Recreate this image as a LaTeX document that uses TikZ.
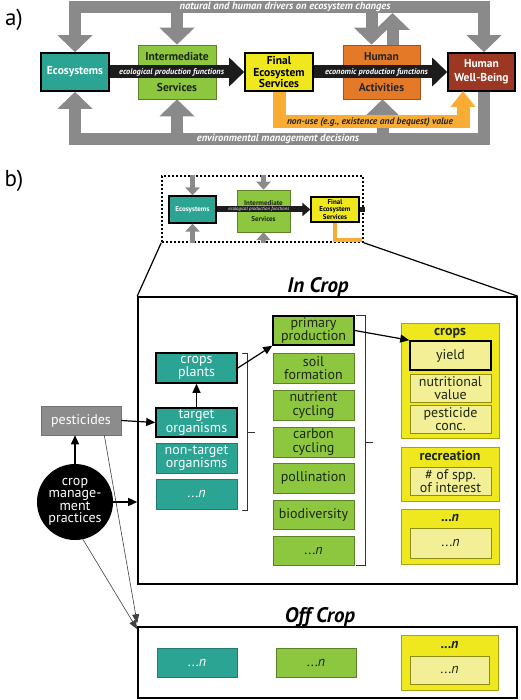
\documentclass[tikz,border=0pt]{standalone}
\usepackage{fontspec}
\setmainfont{PT Sans}
\usetikzlibrary{arrows.meta,calc}
\definecolor{ecoteal}{RGB}{44,164,148}
\definecolor{intgreen}{RGB}{141,198,63}
\definecolor{fesyel}{RGB}{240,232,30}
\definecolor{fesin}{RGB}{243,239,150}
\definecolor{humorg}{RGB}{228,122,40}
\definecolor{hwbbrown}{RGB}{155,55,35}
\definecolor{bandgray}{RGB}{138,138,138}
\definecolor{pestgray}{RGB}{140,140,140}
\definecolor{nonuse}{RGB}{248,172,52}
\definecolor{arrowblack}{RGB}{28,28,28}
\definecolor{darktext}{RGB}{30,38,20}
\newcommand\boxfont{\fontsize{14}{13.5}\selectfont}
\begin{document}
\begin{tikzpicture}[x=1pt,y=-1pt,
  band/.style={draw=bandgray, line width=12pt, line join=miter},
  ghead/.style={-{Triangle[width=34pt,length=17pt]}},
  sband/.style={draw=bandgray, line width=5pt},
  sghead/.style={-{Triangle[width=14pt,length=8pt]}},
  abox/.style={rectangle, inner sep=0pt, align=center, font=\fontsize{11.5}{11.5}\selectfont\bfseries},
  sbox/.style={rectangle, inner sep=0pt, align=center, font=\fontsize{7}{7.5}\selectfont\bfseries},
  bandlabel/.style={text=white, font=\fontsize{10.5}{10}\selectfont\bfseries\itshape, inner sep=0pt},
  arrlabel/.style={text=white, font=\fontsize{8.3}{8}\selectfont\bfseries\itshape, inner sep=0pt},
  keybox/.style={draw=black, line width=1.6pt},
  tbox/.style={rectangle, fill=ecoteal, draw=ecoteal!75!black, line width=0.6pt, text=white, minimum width=81pt, minimum height=30pt, inner sep=0pt, align=center, font=\boxfont},
  gbox/.style={rectangle, fill=intgreen, draw=intgreen!65!black, line width=0.6pt, text=darktext, minimum width=81pt, minimum height=30pt, inner sep=0pt, align=center, font=\boxfont},
  ygrp/.style={rectangle, fill=fesyel, draw=fesyel!70!black, line width=0.8pt, minimum width=98pt, inner sep=0pt},
  ybox/.style={rectangle, fill=fesin, draw=fesyel!60!black, line width=0.6pt, text=darktext, minimum width=81pt, minimum height=28pt, inner sep=0pt, align=center, font=\boxfont},
  ytitle/.style={anchor=base, inner sep=0pt, text=darktext, font=\fontsize{14}{14}\selectfont\bfseries},
  bracket/.style={draw=black!80, line width=0.7pt},
  barrow/.style={draw=black, line width=1.2pt, -{Triangle[width=8pt,length=9pt]}},
  tarrow/.style={draw=black!75, line width=0.6pt, -{Triangle[width=7pt,length=9pt]}},
  frame/.style={rectangle, draw=black, line width=1.6pt, inner sep=0pt},
  title/.style={anchor=base, inner sep=0pt, font=\fontsize{21}{21}\selectfont\bfseries\itshape},
  plabel/.style={inner sep=0pt, font=\fontsize{23}{23}\selectfont}
]
\useasboundingbox (0,0) rectangle (520,700);

% ---------------- panel a ----------------
\node[plabel] (la) at (14,20) {a)};

\node[abox, fill=ecoteal, draw=black, line width=1.6pt, text=white, minimum width=68pt, minimum height=38pt] (eco) at (75,72) {Ecosystems};
\node[abox, fill=intgreen, draw=intgreen!65!black, line width=0.6pt, text=darktext, minimum width=78pt, minimum height=54pt] (int) at (177,72) {Intermediate\\[19pt]Services};
\node[abox, fill=fesyel, draw=black, line width=1.6pt, text=black, minimum width=68pt, minimum height=38pt] (fes) at (279,72) {Final\\Ecosystem\\Services};
\node[abox, fill=humorg, draw=humorg!70!black, line width=0.6pt, text=black!85, minimum width=77pt, minimum height=54pt] (ha) at (381.5,72) {Human\\[19pt]Activities};
\node[abox, fill=hwbbrown, draw=black, line width=1.6pt, text=white, minimum width=67pt, minimum height=38pt, font=\fontsize{11.5}{14}\selectfont\bfseries] (hwb) at (481.5,72) {Human\\Well-Being};

\coordinate (tl) at (75,7);
\coordinate (tr) at (484,7);
\coordinate (bl) at (75,139);

% top band
\draw[band, {Triangle[width=34pt,length=17pt]}-{Triangle[width=34pt,length=17pt]}] (eco.north) |- (tr) -- (tr |- hwb.north);
\draw[band, ghead] (int.north |- tl) -- (int.north);
\draw[band, ghead] ([xshift=-10pt]ha.north |- tl) -- ([xshift=-10pt]ha.north);
\draw[band, ghead] ([xshift=11pt]ha.north) -- ([xshift=11pt]ha.north |- 0,13);
\node[bandlabel] (tlab) at (285,7) {natural and human drivers on ecosystem changes};

% bottom band
\draw[band, ghead] (tr |- hwb.south) |- (bl) -- (eco.south);
\draw[band, ghead] (int.south |- bl) -- (int.south);
\draw[band, ghead] ([xshift=1pt]ha.south |- bl) -- ([xshift=1pt]ha.south);
\node[bandlabel] (blab) at (278,139) {environmental management decisions};

% non-use
\draw[draw=nonuse, line width=13pt, line join=miter, -{Triangle[width=24pt,length=16pt]}] (fes.south) |- (463,121.5) -- (463,91);
\node[inner sep=0pt, text=black!85, font=\fontsize{9.5}{9}\selectfont\bfseries\itshape] (nlab) at (370,122) {non-use (e.g., existence and bequest) value};

% black arrows
\draw[draw=arrowblack, line width=13pt, -{Triangle[width=28pt,length=15pt]}] (eco.east) -- node[arrlabel, pos=0.46] {ecological production functions} (fes.west);
\draw[draw=arrowblack, line width=13pt, -{Triangle[width=28pt,length=15pt]}] (fes.east) -- node[arrlabel, pos=0.47] {economic production functions} (hwb.west);

% ---------------- panel b ----------------
\node[plabel] (lb) at (14,181) {b)};

\node[rectangle, draw=black, line width=1.5pt, dash pattern=on 2pt off 2pt, minimum width=201pt, minimum height=66pt, inner sep=0pt] (dbox) at (262.5,209) {};
\node[sbox, fill=ecoteal, draw=black, line width=1.2pt, text=white, minimum width=47pt, minimum height=27pt] (seco) at (192.5,209.5) {Ecosystems};
\node[sbox, fill=intgreen, draw=intgreen!65!black, line width=0.5pt, text=darktext, minimum width=53pt, minimum height=42pt] (sint) at (263.5,211) {Intermediate\\[9pt]Services};
\node[sbox, fill=fesyel, draw=black, line width=1.2pt, text=black, minimum width=48pt, minimum height=25pt] (sfes) at (335,209.5) {Final\\Ecosystem\\Services};
\draw[sband, sghead] (seco.north |- dbox.north) -- (seco.north);
\draw[sband, sghead] (sint.north |- dbox.north) -- (sint.north);
\draw[sband, sghead] (seco.south |- dbox.south) -- (seco.south);
\draw[sband, sghead] (sint.south |- dbox.south) -- (sint.south);
\draw[draw=arrowblack, line width=6pt, -{Triangle[width=13pt,length=8pt]}] (seco.east) -- node[text=white, inner sep=0pt, pos=0.45, font=\fontsize{4.8}{5}\selectfont\itshape] {ecological production functions} (sfes.west);
\draw[draw=arrowblack, line width=5pt] (sfes.east) -- ++(5,0);
\draw[draw=nonuse, line width=4pt, line join=miter] (sfes.south) |- (362,240);

\node[frame, minimum width=379pt, minimum height=287pt] (incrop) at (327.5,440.5) {};
\node[frame, minimum width=379pt, minimum height=71pt] (offcrop) at (327.5,662.5) {};
\draw[black, line width=1.2pt] (dbox.south west) -- (incrop.north west);
\draw[black, line width=1.2pt] (dbox.south east) -- (incrop.north east);
\node[title] (tin) at (318,292) {In Crop};
\node[title] (toff) at (320,622) {Off Crop};

% teal column
\node[tbox, keybox] (cp) at (196.5,368) {crops\\plants};
\node[tbox, keybox, minimum height=29pt] (to) at (196.5,422.5) {target\\organisms};
\node[tbox] (nto) at (196.5,458) {non-target\\organisms};
\node[tbox] (tn) at (196.5,494) {...\textit{n}};
\draw[bracket] (242,353) -| (247,510) -- (242,510);
\draw[bracket] (247,432) -- (255,432);

% green column
\node[gbox, keybox, minimum height=29pt] (pp) at (313.5,330.5) {primary\\production};
\node[gbox] (sf) at (313.5,368) {soil\\formation};
\node[gbox] (nc) at (313.5,405) {nutrient\\cycling};
\node[gbox] (cc) at (313.5,442) {carbon\\cycling};
\node[gbox] (po) at (313.5,478) {pollination};
\node[gbox, minimum height=29pt] (bd) at (313.5,514.5) {biodiversity};
\node[gbox, minimum height=29pt] (gn) at (313.5,550.5) {...\textit{n}};
\draw[bracket] (356,315) -| (365,565) -- (356,565);
\draw[bracket] (365,442) -- (373,442);

% yellow column
\node[ygrp, minimum height=115pt] (crops) at (450,380.5) {};
\node[ytitle] (tcrops) at ([yshift=-12.5pt]crops.north) {crops};
\node[ybox, keybox, minimum height=29pt] (yield) at (450.5,355.5) {yield};
\node[ybox] (nv) at (450.5,388) {nutritional\\value};
\node[ybox] (pc) at (450.5,419) {pesticide\\conc.};
\node[ygrp, minimum height=54pt] (rec) at (450,474) {};
\node[ytitle] (trec) at ([yshift=-13.5pt]rec.north) {recreation};
\node[ybox] (spp) at (450.5,481) {\# of spp.\\of interest};
\node[ygrp, minimum height=55pt] (yn) at (450,536.5) {};
\node[ytitle] (tyn) at ([yshift=-13pt]yn.north) {...\textit{n}};
\node[ybox, minimum height=30pt] (yni) at (450.5,543) {...\textit{n}};

% off crop contents
\node[tbox, minimum width=80pt, minimum height=29pt] (otn) at (197,662.5) {...\textit{n}};
\node[gbox, minimum width=80pt, minimum height=29pt] (ogn) at (316,662.5) {...\textit{n}};
\node[ygrp, minimum width=97pt, minimum height=55pt] (oyn) at (449.5,662.5) {};
\node[ytitle] (toyn) at ([yshift=-14pt]oyn.north) {...\textit{n}};
\node[ybox, minimum width=79pt] (oyni) at (449.5,670) {...\textit{n}};

% drivers
\node[rectangle, fill=pestgray, draw=black!55, line width=0.6pt, text=white, minimum width=80pt, minimum height=29pt, inner sep=0pt, font=\boxfont] (pest) at (81,420.5) {pesticides};
\node[circle, fill=black, text=white, minimum size=76pt, inner sep=0pt, align=center, font=\fontsize{14}{12.5}\selectfont] (cmp) at (75,502) {crop\\manage-\\ment\\practices};

% connectors
\draw[barrow] (to.north) -- (cp.south);
\draw[barrow] (cp.east) -- (pp.south west);
\draw[barrow] (pp.east) -- (yield.north west);
\draw[barrow] (pest.east) -- (to.west);
\draw[barrow] (cmp.north) -- (cmp.north |- pest.south);
\draw[barrow] (cmp.east) -- (incrop.west |- cmp.east);
\draw[tarrow] ([xshift=-17pt]pest.south east) -- ([yshift=3pt]offcrop.north west);
\draw[tarrow] (cmp.-78) -- ([yshift=-3pt]offcrop.north west);
\end{tikzpicture}
\end{document}
